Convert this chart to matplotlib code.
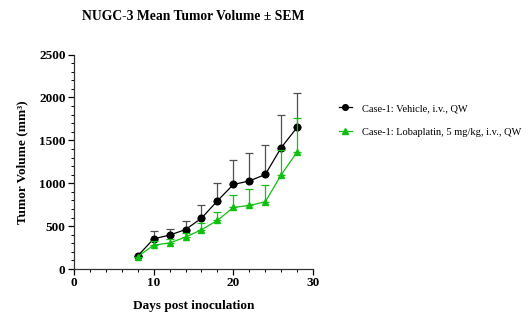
import numpy as np
import matplotlib
matplotlib.use("Agg")
import matplotlib.pyplot as plt
from matplotlib.ticker import MultipleLocator

plt.rcParams["font.family"] = ["Liberation Serif", "DejaVu Serif"]

days = [8, 10, 12, 14, 16, 18, 20, 22, 24, 26, 28]

vehicle_mean = [152, 352, 395, 460, 592, 795, 986, 1026, 1102, 1415, 1652]
vehicle_top = [152, 438, 466, 563, 741, 1005, 1273, 1347, 1447, 1793, 2057]

loba_mean = [144, 279, 303, 372, 458, 567, 718, 741, 784, 1098, 1366]
loba_top = [144, 330, 350, 425, 539, 664, 861, 931, 982, 1390, 1758]

vehicle_label = "Case-1: Vehicle, i.v., QW"
loba_label = "Case-1: Lobaplatin, 5 mg/kg, i.v., QW"

fig = plt.figure(figsize=(5.28, 3.35), dpi=100)
ax = fig.add_axes([0.140, 0.197, 0.453, 0.640])

green = "#10c010"

def draw(mean, top, color, ecolor, marker, label):
    mean = np.array(mean)
    up = np.array(top) - mean
    ax.errorbar(days, mean, yerr=[np.zeros_like(up), up], fmt="none",
                ecolor=ecolor, elinewidth=0.9, capsize=2.6, capthick=0.9)
    ax.plot(days, mean, color=color, lw=0.9, marker=marker, ms=4.8,
            mec=color, mfc=color, label=label)

draw(vehicle_mean, vehicle_top, "black", "#505050", "o", vehicle_label)
draw(loba_mean, loba_top, green, green, "^", loba_label)

ax.set_xlim(0, 30)
ax.set_ylim(0, 2500)
ax.xaxis.set_major_locator(MultipleLocator(10))
ax.xaxis.set_minor_locator(MultipleLocator(2))
ax.yaxis.set_major_locator(MultipleLocator(500))
ax.yaxis.set_minor_locator(MultipleLocator(100))

for s in ["top", "right"]:
    ax.spines[s].set_visible(False)
for s in ["left", "bottom"]:
    ax.spines[s].set_linewidth(0.9)
    ax.spines[s].set_color("#333333")

ax.tick_params(which="major", length=4, width=0.9, labelsize=9.5, pad=2)
ax.tick_params(which="minor", length=2.5, width=0.7)
for t in ax.get_xticklabels() + ax.get_yticklabels():
    t.set_fontweight("bold")

ax.set_xlabel("Days post inoculation", fontsize=9.5, fontweight="bold", labelpad=8)
ax.set_ylabel("Tumor Volume (mm³)", fontsize=9.5, fontweight="bold", labelpad=8)
ax.set_title("NUGC-3 Mean Tumor Volume ± SEM", fontsize=9.8, fontweight="bold", pad=25)

ax.legend(loc="upper left", bbox_to_anchor=(1.07, 0.815), frameon=False,
          fontsize=7.5, handlelength=1.2, labelspacing=1.4, handletextpad=1.0,
          markerscale=0.85)

fig.savefig("out.png", dpi=100)
